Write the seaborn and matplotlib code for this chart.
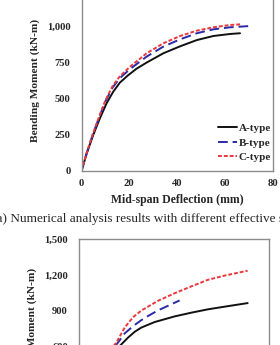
import numpy as np
import pandas as pd
import matplotlib
matplotlib.use("Agg")
import matplotlib.pyplot as plt
import matplotlib.ticker as mticker
import seaborn as sns

# ---- data (a) ----
a_A_x = [0, 2.2, 4.9, 7.7, 10.5, 13.3, 16.1, 19.5, 23.0, 27.3, 34.3, 41.3, 48.3, 55.2, 62.2, 66.4]
a_A_y = [0, 122, 248, 363, 467, 547, 610, 660, 705, 748, 812, 860, 903, 931, 945, 950]
a_B_x = [0, 2.2, 4.8, 7.5, 10.0, 13.0, 16.0, 20.3, 27.3, 34.3, 41.3, 48.3, 55.2, 62.2, 70.6]
a_B_y = [0, 125, 255, 375, 480, 575, 640, 703, 789, 858, 908, 950, 977, 991, 1000]
a_C_x = [0, 2.2, 4.8, 7.5, 10.0, 13.0, 16.0, 20.3, 27.3, 34.3, 41.3, 48.3, 55.2, 62.2, 67.1]
a_C_y = [0, 127, 258, 380, 487, 585, 652, 719, 812, 881, 931, 968, 991, 1007, 1012]

# ---- data (b) ----
b_A_x = [0, 5, 10, 14, 17.2, 20.7, 23.5, 26.2, 31.8, 40.2, 47.2, 54.2, 61.2, 70.9]
b_A_y = [0, 235, 430, 550, 610, 680, 728, 762, 808, 855, 886, 914, 936, 966]
b_B_x = [0, 5, 10, 14, 16.5, 19.3, 22.8, 26.3, 29.0, 33.2, 42.3]
b_B_y = [0, 245, 455, 580, 640, 715, 775, 825, 858, 905, 988]
b_C_x = [0, 5, 10, 13, 15.8, 19.3, 22.8, 26.3, 33.2, 40.2, 47.2, 54.2, 61.2, 70.9]
b_C_y = [0, 250, 465, 570, 640, 765, 850, 905, 985, 1048, 1105, 1160, 1195, 1236]

types = ["A-type", "B-type", "C-type"]
palette = {"A-type": "#111111", "B-type": "#2a2aa8", "C-type": "#e8383d"}
dashes = {"A-type": "", "B-type": (5, 2.5), "C-type": (2, 1)}


def frame(xs, ys):
    rows = []
    for t, x, y in zip(types, xs, ys):
        for xi, yi in zip(x, y):
            rows.append((t, xi, yi))
    return pd.DataFrame(rows, columns=["Type", "Deflection", "Moment"])


df_a = frame([a_A_x, a_B_x, a_C_x], [a_A_y, a_B_y, a_C_y])
df_b = frame([b_A_x, b_B_x, b_C_x], [b_A_y, b_B_y, b_C_y])

sns.set_style("white")
plt.rcParams["font.family"] = ["Liberation Serif", "DejaVu Serif"]

W, H = 280, 345
fig = plt.figure(figsize=(W / 100, H / 100), dpi=100)


def px_axes(left, right, top, bottom):
    return fig.add_axes([left / W, (H - bottom) / H, (right - left) / W, (bottom - top) / H])


ax1 = px_axes(81.5, 272.5, -10.25, 171)
ax2 = px_axes(79, 269.3, 239, 419)

spine_col = "#8c8c8c"
for ax, df, ymax, ystep in [(ax1, df_a, 1250, 250), (ax2, df_b, 1500, 300)]:
    sns.lineplot(data=df, x="Deflection", y="Moment", hue="Type", style="Type",
                 palette=palette, dashes=dashes, estimator=None, sort=False,
                 linewidth=1.4, ax=ax, legend=(ax is ax1))
    ax.set_xlim(0, 80)
    ax.set_ylim(0, ymax)
    ax.set_xticks(np.arange(0, 81, 20))
    ax.set_yticks(np.arange(0, ymax + 1, ystep))
    ax.yaxis.set_major_formatter(mticker.StrMethodFormatter("{x:,.0f}"))
    for s in ax.spines.values():
        s.set_color(spine_col)
        s.set_linewidth(1.0)
    ax.tick_params(direction="in", length=3, width=0.8, color=spine_col,
                   labelsize=7.6, pad=5.5)
    ax.tick_params(axis="y", pad=8)
    for lab in ax.get_xticklabels() + ax.get_yticklabels():
        lab.set_fontweight("bold")
    ax.set_xlabel("Mid-span Deflection (mm)", fontsize=8.5, fontweight="bold", labelpad=4.5)
    ax.set_ylabel("Bending Moment (kN-m)", fontsize=8.2, fontweight="bold", labelpad=5)

leg = ax1.legend(loc="upper left", bbox_to_anchor=(212 / W, (H - 118) / H),
                 bbox_transform=fig.transFigure, frameon=False, borderpad=0,
                 handlelength=1.75, handletextpad=0.15, labelspacing=0.4,
                 prop={"family": "Liberation Serif", "weight": "bold", "size": 8.0})
for line in leg.get_lines():
    line.set_linewidth(1.4)

fig.text(-8 / W, (H - 219) / H,
         "(a) Numerical analysis results with different effective slab widths",
         ha="left", va="center", fontsize=9.5, family="Liberation Serif")

fig.savefig("out.png", dpi=100)
